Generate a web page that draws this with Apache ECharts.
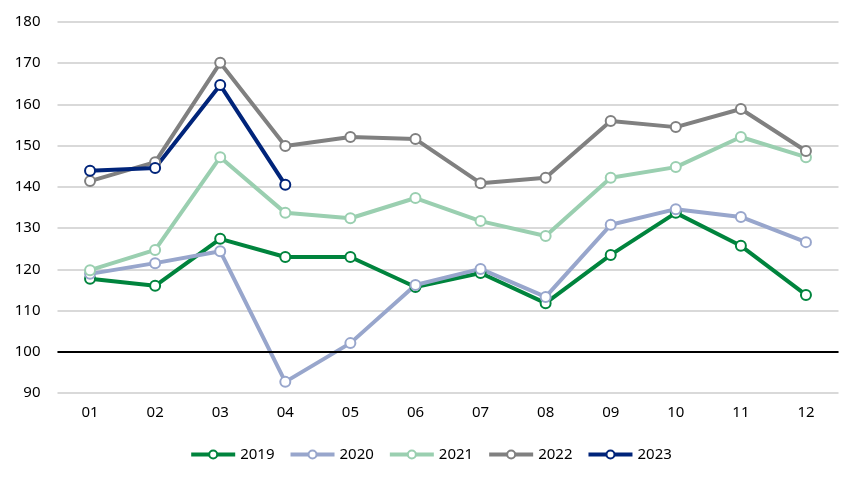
<!DOCTYPE html>
<html>
<head>
<meta charset="utf-8">
<script src="https://cdn.jsdelivr.net/npm/echarts@6/dist/echarts.min.js"></script>
<style>html,body{margin:0;padding:0;background:#fff}#c{width:861px;height:485px}</style>
</head>
<body>
<div id="c"></div>
<script>
var categories = ['01','02','03','04','05','06','07','08','09','10','11','12'];
var s2019 = [117.7,116.0,127.4,123.0,123.0,115.7,119.1,111.8,123.5,133.7,125.7,113.8];
var s2020 = [118.9,121.5,124.4,92.7,102.1,116.2,120.1,113.3,130.8,134.6,132.7,126.6];
var s2021 = [119.8,124.7,147.2,133.7,132.4,137.3,131.7,128.1,142.2,144.8,152.1,147.2];
var s2022 = [141.4,146.0,170.1,149.9,152.1,151.6,140.9,142.2,156.0,154.5,158.9,148.7];
var s2023 = [143.9,144.6,164.7,140.5];
var names = ['2019','2020','2021','2022','2023'];
var colors = ['#00843d','#98a6cc','#9acfb0','#808080','#00247a'];
var values = [s2019,s2020,s2021,s2022,s2023];
var font = 'Noto Sans';
var series = values.map(function(v,i){
  var s = {
    name: names[i], type: 'line', data: v,
    symbol: 'circle', symbolSize: 10,
    lineStyle: {width: 4, color: colors[i]},
    itemStyle: {color: '#fff', borderColor: colors[i], borderWidth: 2},
    emphasis: {disabled: true}
  };
  if (i === 0) {
    s.markLine = {silent: true, symbol: 'none', label: {show: false},
      lineStyle: {color: '#000', width: 2, type: 'solid'},
      data: [{yAxis: 100}]};
  }
  return s;
});
var chart = echarts.init(document.getElementById('c'));
chart.setOption({
  animation: false,
  grid: {left: 57.5, right: 22.5, top: 22, bottom: 92},
  legend: {
    bottom: 18, left: 'center', itemWidth: 44, itemHeight: 10, itemGap: 14,
    textStyle: {fontFamily: font, fontSize: 15, color: '#000'},
    data: names.map(function(n,i){return {name:n, itemStyle:{color:'#fff', borderColor: colors[i], borderWidth:2}, lineStyle:{color: colors[i], width:4}};})
  },
  xAxis: {
    type: 'category', data: categories, boundaryGap: true,
    axisLine: {show: false}, axisTick: {show: false},
    axisLabel: {fontFamily: font, fontSize: 15, color: '#000', margin: 12}
  },
  yAxis: {
    type: 'value', min: 90, max: 180, interval: 10,
    axisLine: {show: false}, axisTick: {show: false},
    axisLabel: {fontFamily: font, fontSize: 15, color: '#000', margin: 17},
    splitLine: {lineStyle: {color: '#d9d9d9', width: 2}}
  },
  series: series
});
</script>
</body>
</html>
